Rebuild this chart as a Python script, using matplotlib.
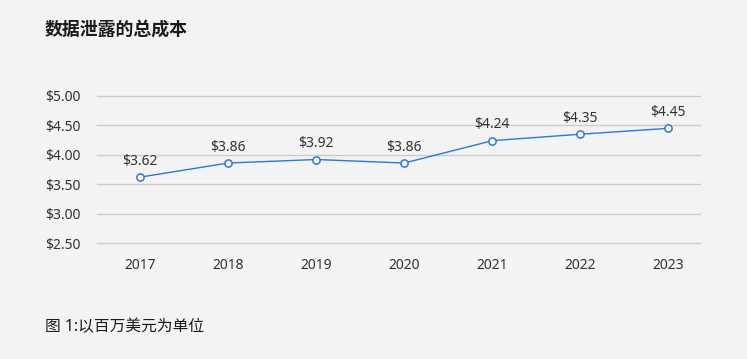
import matplotlib
matplotlib.use("Agg")
import matplotlib.pyplot as plt

plt.rcParams['font.family'] = ['Noto Sans', 'Noto Sans CJK SC', 'DejaVu Sans']

years = ["2017", "2018", "2019", "2020", "2021", "2022", "2023"]
costs = [3.62, 3.86, 3.92, 3.86, 4.24, 4.35, 4.45]
yticks = [2.5, 3.0, 3.5, 4.0, 4.5, 5.0]
title = "数据泄露的总成本"
caption = "图 1:以百万美元为单位"

bg = "#f3f3f3"
fig = plt.figure(figsize=(7.47, 3.59), dpi=100, facecolor=bg)
ax = fig.add_axes([97/747, 1-243/359, (700-97)/747, (243-96)/359])
ax.set_facecolor(bg)

x = list(range(len(years)))
ax.plot(x, costs, color="#2f74e0", lw=1.0, marker="o", ms=5.2,
        mfc="white", mec="#2f74e0", mew=1.1, zorder=3, clip_on=False)
for xi, v in zip(x, costs):
    ax.annotate(f"${v:.2f}", (xi, v), xytext=(0, 6), textcoords="offset points",
                ha="center", va="bottom", fontsize=10, color="#333333")

ax.set_xlim(-0.49, 6.36)
ax.set_ylim(2.5, 5.0)
ax.set_yticks(yticks)
ax.set_yticklabels([f"${t:.2f}" for t in yticks])
ax.set_xticks(x)
ax.set_xticklabels(years)
ax.grid(axis="y", color="#cccccc", lw=1)
for gl in ax.get_ygridlines():
    gl.set_clip_on(False)
ax.set_axisbelow(True)
for s in ax.spines.values():
    s.set_visible(False)
ax.tick_params(length=0, labelsize=10, colors="#333333")
ax.tick_params(axis="x", pad=11)
ax.tick_params(axis="y", pad=12)

fig.text(45/747, 1-30/359, title, fontsize=12.9, fontweight="bold", color="#1a1a1a",
         ha="left", va="center", family=['Noto Sans CJK SC', 'DejaVu Sans'])
fig.text(45/747, 1-327/359, caption, fontsize=11.3, color="#1a1a1a",
         ha="left", va="center")

fig.savefig("out.png", dpi=100, facecolor=bg)
